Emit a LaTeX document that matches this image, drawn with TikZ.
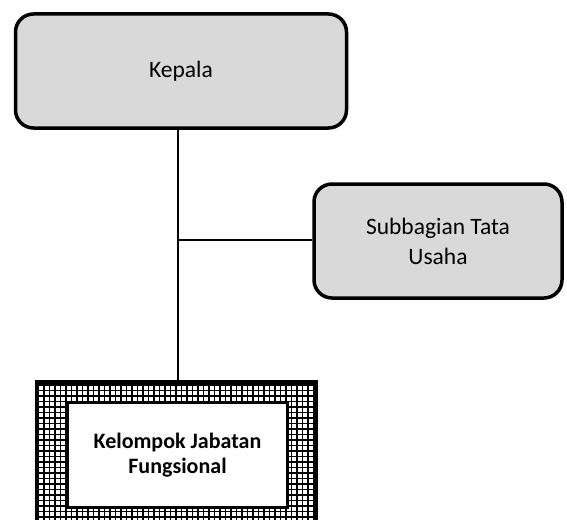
\documentclass[tikz,border=0pt]{standalone}
\usepackage{fontspec}
\setmainfont{Carlito}
\usepackage{tikz}
\usetikzlibrary{positioning,calc}

\begin{document}
\begin{tikzpicture}[x=1pt,y=-1pt,
                    unit box/.style={rectangle,rounded corners=18pt,draw,line width=3.5pt,
                    fill=black!15,align=center,font=\fontsize{23.5}{30}\selectfont},
                    func box/.style={rectangle,draw,line width=3pt,fill=white,align=center,
                    font=\bfseries\fontsize{22}{25}\selectfont},
                    link/.style={line width=2.2pt}]

\clip (0,0) rectangle (567,519);

\node[unit box,minimum width=331pt,minimum height=114pt] (kepala) at (181,71) {Kepala};
\node[unit box,minimum width=248pt,minimum height=114pt] (subbagian) at (438,241) {Subbagian Tata\\Usaha};

% kotak jabatan fungsional, bingkai bergaris kisi
\node[draw,line width=3pt,fill=white,minimum width=277pt,minimum height=165pt] (fungsional) at (176,465) {};
\begin{scope}
  \clip (fungsional.south west) rectangle (fungsional.north east);
  \draw[line width=1.1pt,step=5.5pt] (20,370) grid (330,560);
\end{scope}
\draw[line width=3pt] (fungsional.south west) rectangle (fungsional.north east);
\node[func box,minimum width=220pt,minimum height=105pt] (kelompok) at (177.5,455) {Kelompok Jabatan\\Fungsional};

\coordinate (cabang) at (178,240);
\draw[link] (kepala.south -| cabang) -- (fungsional.north -| cabang);
\draw[link] (cabang) -- (cabang -| subbagian.west);

\end{tikzpicture}
\end{document}
